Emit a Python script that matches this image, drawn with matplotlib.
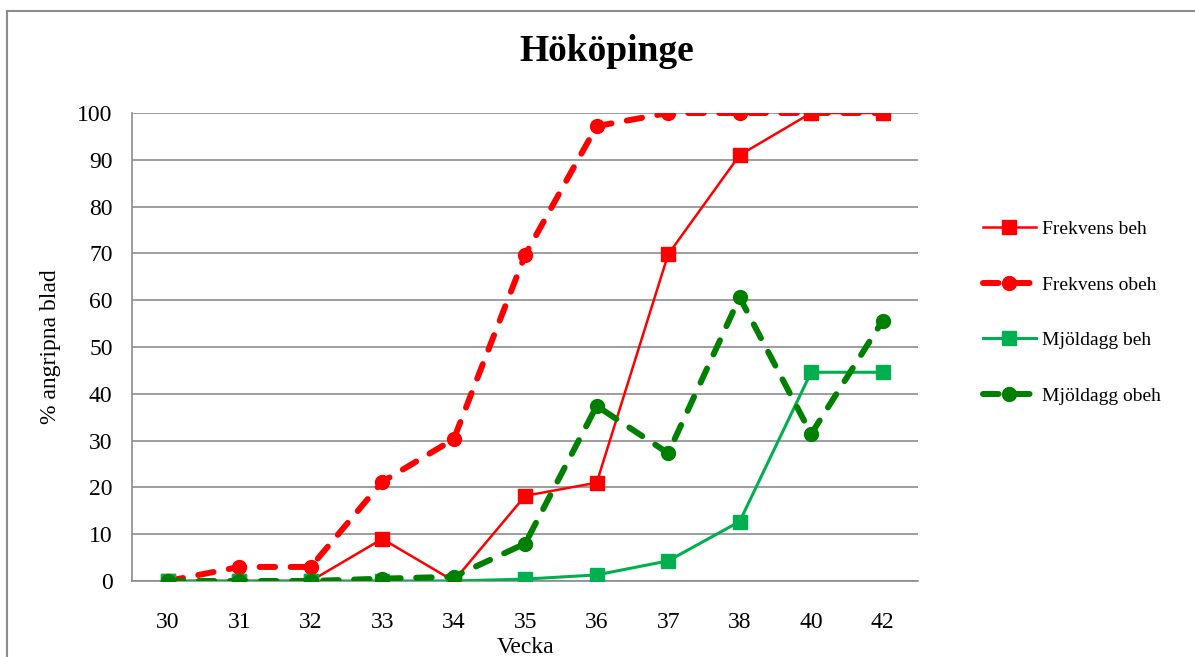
import numpy as np
import matplotlib.pyplot as plt
from matplotlib.lines import Line2D

plt.rcParams['font.family'] = ['Liberation Serif', 'DejaVu Serif']

weeks = ['30', '31', '32', '33', '34', '35', '36', '37', '38', '40', '42']
frekvens_beh = [0, 0, 0, 9.0, 0, 18.2, 21.0, 69.8, 91.0, 100, 100]
frekvens_obeh = [0, 3.0, 3.0, 21.2, 30.3, 69.7, 97.2, 100, 100, 100, 100]
mjoldagg_beh = [0, 0, 0, 0, 0, 0.4, 1.3, 4.3, 12.7, 44.6, 44.6]
mjoldagg_obeh = [0, 0, 0, 0.5, 0.9, 8.0, 37.4, 27.3, 60.6, 31.4, 55.6]

fig = plt.figure(figsize=(11.95, 6.57), dpi=100)
ax = fig.add_axes([0.1105, 0.1157, 0.658, 0.7123])

x = np.arange(len(weeks))
dash = dict(dashes=(2.6, 2.6), dash_capstyle='round', lw=4.3)

ax.plot(x, frekvens_beh, color='#FF0000', lw=1.8, marker='s', ms=10,
        label='Frekvens beh', zorder=3)
ax.plot(x, frekvens_obeh, color='#FF0000', marker='o', ms=10,
        label='Frekvens obeh', zorder=3, **dash)
ax.plot(x, mjoldagg_beh, color='#00B050', lw=2.2, marker='s', ms=10,
        label='Mjöldagg beh', zorder=4)
ax.plot(x, mjoldagg_obeh, color='#008000', marker='o', ms=10,
        label='Mjöldagg obeh', zorder=5, **dash)

ax.set_xlim(-0.5, len(weeks) - 0.5)
ax.set_ylim(0, 100)
ax.set_yticks(range(0, 101, 10))
ax.set_xticks(x)
ax.set_xticklabels(weeks)
ax.tick_params(length=0, labelsize=17)
ax.tick_params(axis='x', pad=22)
ax.tick_params(axis='y', pad=14)
ax.yaxis.grid(True, color='#8c8c8c', lw=1.2)
ax.set_axisbelow(True)
for s in ['top', 'right']:
    ax.spines[s].set_visible(False)
for s in ['left', 'bottom']:
    ax.spines[s].set_color('#8c8c8c')
    ax.spines[s].set_linewidth(1.2)

fig.text(0.508, 0.921, 'Hököpinge', fontsize=27, fontweight='bold',
         ha='center', va='center')
ax.set_ylabel('% angripna blad', fontsize=17, labelpad=12)
ax.set_xlabel('Vecka', fontsize=17, labelpad=3)

ax.legend(loc='center left', bbox_to_anchor=(0.808, 0.524), bbox_transform=fig.transFigure,
          frameon=False, fontsize=14, labelspacing=1.95, handlelength=2.7,
          handletextpad=0.35)

# outer chart border (left and top edges visible)
fig.add_artist(Line2D([0.006, 0.006], [0, 0.983], color='#8c8c8c', lw=1.5))
fig.add_artist(Line2D([0.006, 1.0], [0.983, 0.983], color='#8c8c8c', lw=1.5))

fig.savefig('out.png', dpi=100)
